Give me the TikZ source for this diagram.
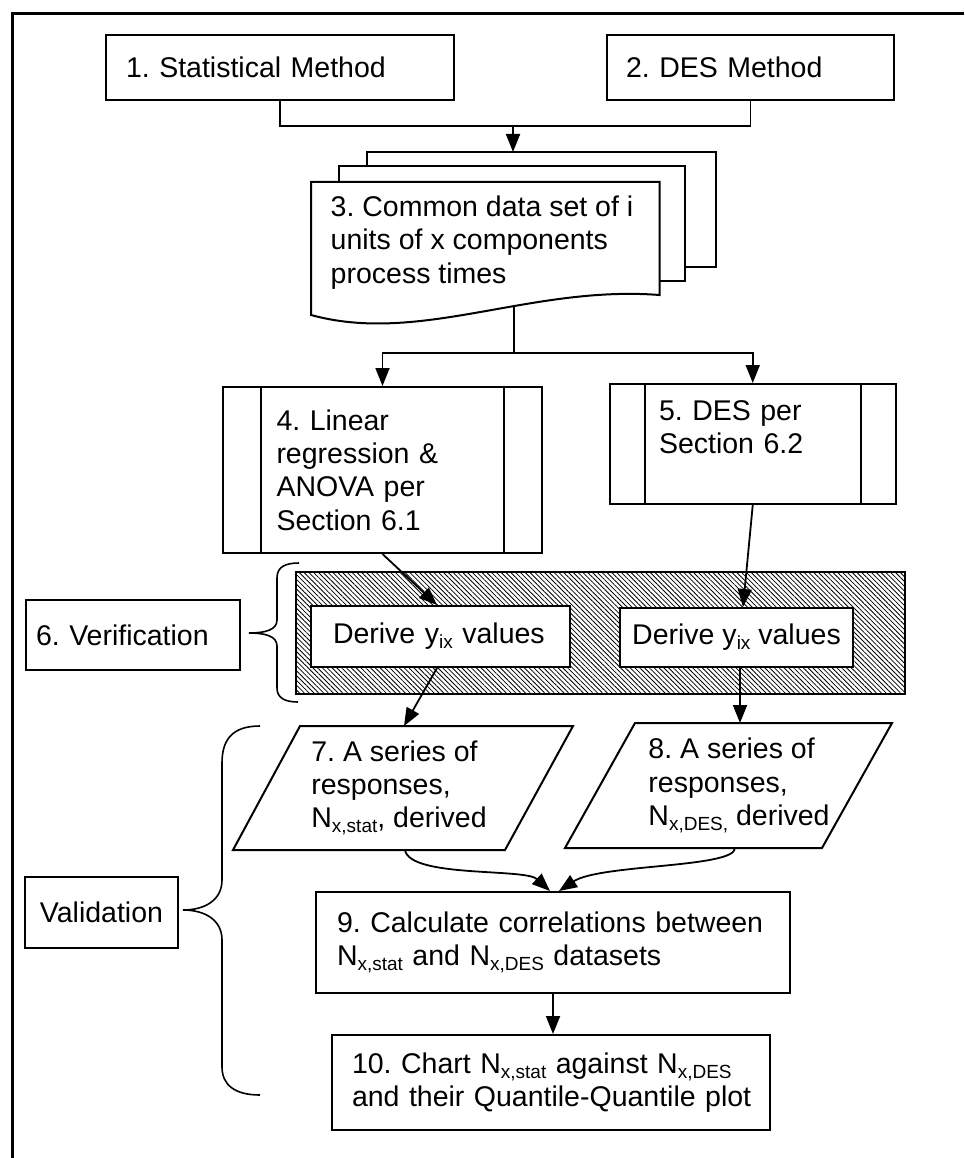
\documentclass[tikz,border=0pt]{standalone}
\usepackage{fontspec}
\setmainfont{Liberation Sans}
\usetikzlibrary{arrows.meta,patterns.meta}
% lowered small text for subscripts such as N_{x,stat}
\newcommand\lowtxt[1]{\raisebox{-5pt}{\fontsize{19}{19}\selectfont #1}}

\begin{document}
\frenchspacing
\begin{tikzpicture}[x=1pt,y=-1pt,
  font=\fontsize{28.5}{33.3}\selectfont\frenchspacing,
  box/.style={draw,line width=2pt,fill=white,inner ysep=0pt,align=left},
  subproc/.style={box,path picture={
      \draw[line width=2pt]
        ([xshift=#1]path picture bounding box.north west) -- ([xshift=#1]path picture bounding box.south west)
        ([xshift=-#1]path picture bounding box.north east) -- ([xshift=-#1]path picture bounding box.south east);}},
  doc/.style={draw,line width=2pt,fill=white},
  conn/.style={line width=1.8pt},
  arr/.style={conn,-{Triangle[length=18pt,width=14pt]}},
  brace/.style={line width=1.6pt},
  plabel/.style={align=left,inner sep=0pt},
]
\useasboundingbox (0,0) rectangle (964,1158);

% page frame (top and left rules)
\draw[line width=3pt] (12,1158) -- (12,14) -- (964,14);

% 1 and 2: the two methods
\node[box,text width=308pt,inner xsep=20pt,minimum height=65pt] (n1) at (280,67.5) {1. Statistical Method};
\node[box,text width=249pt,inner xsep=19pt,minimum height=65pt] (n2) at (750.5,67.5) {2. DES Method};

% 3: stack of documents
\draw[doc] (367,152) rectangle (716,267);
\draw[doc] (339,166) rectangle (685,281);
\draw[doc] (311,182) -- (659.5,182) -- (659.5,295)
  .. controls (530,285) and (420,345) .. (311,315) -- cycle;
\node[plabel] (n3) at (482,242.6) {3. Common data set of i\\units of x components\\process times};

\coordinate (j12) at (513,126);
\coordinate (d3top) at (513,152);
\draw[conn] (n1.south) |- (j12) -| (n2.south);
\draw[arr] (j12) -- (d3top);

% 4 and 5: predefined processes
\node[subproc=38pt,text width=212pt,inner xsep=53.5pt,minimum height=166pt] (n4) at (382.5,470)
  {4. Linear\\regression \&\\ANOVA per\\Section 6.1};
\node[subproc=35pt,text width=187.5pt,inner xsep=49.5pt,minimum height=120pt] (n5) at (752.75,444)
  {5. DES per\\Section 6.2\\\mbox{}};

\coordinate (d3bot) at (514,306);
\coordinate (split) at (514,353);
\draw[conn] (d3bot) -- (split);
\draw[arr] (split) -| (n4.north);
\draw[arr] (split) -| (n5.north);

% 6: verification band
\node[draw,line width=2pt,inner sep=0pt,minimum width=609pt,minimum height=122pt,
  pattern={Lines[angle=-45,distance=3.4pt,line width=0.8pt]}] (hatch) at (600.5,633) {};
\node[box,text width=215pt,inner xsep=22pt,minimum height=61pt] (n6a) at (440.5,636.5)
  {\mbox{Derive y\lowtxt{ix} values}};
\node[box,align=center,inner xsep=0pt,minimum width=233pt,minimum height=59pt] (n6b) at (736.5,637.5)
  {Derive y\lowtxt{ix} values};

\node[box,text width=194pt,inner xsep=10pt,minimum height=70pt] (nv) at (133,635) {\mbox{6. Verification}};
\draw[brace] (299,563) .. controls (285,563) and (277,567) .. (277,578) -- (277,620)
  .. controls (277,630) and (265,633) .. (249,633)
  .. controls (265,633) and (277,636) .. (277,646) -- (277,688)
  .. controls (277,698) and (285,702) .. (298,702);

% 7 and 8: data outputs
\draw[line width=2pt] (233,850) -- (300,726) -- (573,726) -- (505,850) -- cycle;
\node[plabel] (n7) at (399,788) {7. A series of\\responses,\\N\lowtxt{x,stat}, derived};
\draw[line width=2pt] (565,848) -- (635,723) -- (892,723) -- (822,848) -- cycle;
\node[plabel] (n8) at (739,785.5) {8. A series of\\responses,\\N\lowtxt{x,DES,} derived};

\coordinate (p7top) at (404,726);
\coordinate (p8top) at (740,723);
\coordinate (p7bot) at (405,850);
\coordinate (p8bot) at (735,848);

\draw[arr] (n4.south) -- ([xshift=-3.5pt]n6a.north);
\draw[arr] ([xshift=-3.5pt]n6a.south) -- (p7top);
\draw[arr] (n5.south) -- ([xshift=6.5pt]n6b.north);
\draw[arr] ([xshift=3.5pt]n6b.south) -- (p8top);

% 9 and 10: validation steps
\node[box,text width=432pt,inner xsep=21pt,minimum height=101pt] (n9) at (553,942.5)
  {\mbox{9. Calculate correlations between}\\N\lowtxt{x,stat} and N\lowtxt{x,DES} datasets};
\node[box,text width=398pt,inner xsep=20pt,minimum height=95pt] (n10) at (551,1082.5)
  {\mbox{10. Chart N\lowtxt{x,stat} against N\lowtxt{x,DES}}\\\mbox{and their Quantile-Quantile plot}};

\draw[arr] (p7bot) .. controls (410,878) and (525,868) .. ([xshift=-3pt]n9.north);
\draw[arr] (p8bot) .. controls (735,868) and (600,864) .. ([xshift=6pt]n9.north);
\draw[arr] (n9.south) -- (n9.south |- n10.north);

\node[box,align=center,minimum width=153pt,minimum height=71pt] (nval) at (101.5,912.5) {Validation};
\draw[brace] (260,726) .. controls (232,726) and (222,740) .. (222,763) -- (222,880)
  .. controls (222,900) and (205,910) .. (183,910)
  .. controls (205,910) and (222,920) .. (222,940) -- (222,1067)
  .. controls (222,1085) and (235,1095) .. (260,1095);

\end{tikzpicture}
\end{document}
